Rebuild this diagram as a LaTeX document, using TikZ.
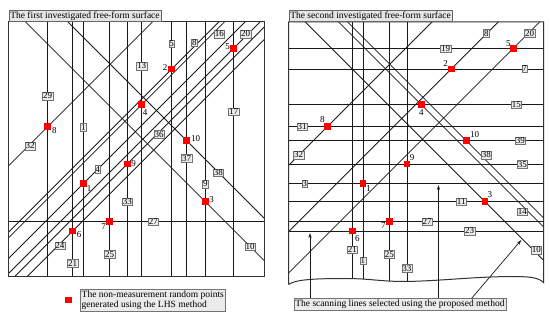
\documentclass[tikz,border=0pt]{standalone}
\usepackage{fontspec}
\setmainfont{Liberation Serif}
\usetikzlibrary{calc,arrows.meta}
\begin{document}
\begin{tikzpicture}[x=1pt,y=-1pt,
  ln/.style={line width=0.8pt, black!90},
  frm/.style={line width=1pt, black!80},
  lab/.style={draw=black!55, fill=black!8, inner sep=0.7pt, font=\fontsize{9}{9.5}\selectfont, line width=0.4pt},
  ptl/.style={font=\fontsize{9}{9.5}\selectfont, inner sep=0pt},
  pt/.style={fill=red, minimum size=6.5pt, inner sep=0pt, draw=none},
  ttl/.style={draw=black!60, fill=black!10, inner sep=1.6pt, font=\fontsize{9.5}{10}\selectfont, line width=0.5pt},
  arr/.style={line width=0.7pt, black!90, -{Stealth[length=5pt,width=3.2pt]}}]
\useasboundingbox (0,0) rectangle (550,318);
% ---------- points ----------
\foreach \n/\x/\y in {1/83.3/183.7, 2/171.7/69, 3/205.3/201.7, 4/141.7/104.7, 5/233.7/48.3,
  6/72.7/231, 7/109.7/221.7, 8/47.7/126.7, 9/127.3/164, 10/186.7/140.7}{
  \coordinate (P\n) at (\x,\y);
  \coordinate (Q\n) at (\x+279.6,\y);
}
% ---------- left panel ----------
\begin{scope}
\clip (8.5,22) rectangle (264,277);
\foreach \n in {1,...,10} \draw[ln] ($(P\n)+(0,-300)$) -- ($(P\n)+(0,300)$);
\draw[ln] ($(P7)+(-300,0)$) -- ($(P7)+(300,0)$);
\foreach \n in {1,2,4,5,6,8,9} \draw[ln] ($(P\n)+(-300,300)$) -- ($(P\n)+(300,-300)$);
\foreach \n in {3,10} \draw[ln] ($(P\n)+(-300,-300)$) -- ($(P\n)+(300,300)$);
\end{scope}
\draw[frm] (8.5,22) rectangle (264,277);
\node[ttl, anchor=south west] (t1) at (8.5,22) {The first investigated free-form surface};
% line labels left
\foreach \t/\x/\y in {29/47.7/96, 1/83.3/127.3, 13/141.7/66, 5/171.7/44, 17/233.7/111.7,
  37/186.7/158.3, 9/205.3/184, 33/127.3/201.7, 25/109.7/254.3, 21/72.7/263.3,
  27/153.3/221.7, 32/30/146, 4/97.7/169.3, 8/194.3/42.5, 16/219.3/34, 20/245.7/34,
  36/159/134.3, 24/60/245.7, 38/218.3/172.7, 10/250/246.7}
  \node[lab] (la\t) at (\x,\y) {\t};
% ---------- right panel ----------
\begin{scope}
\clip (288.5,22) -- (543.5,22) -- (543.5,282.5)
  .. controls (538,277) and (528,276.5) .. (510,276.5)
  .. controls (470,277) and (440,281) .. (405,281.5)
  .. controls (380,281.5) and (370,278.5) .. (345,278.5)
  .. controls (310,278.5) and (295,280) .. (288.5,284.5) -- cycle;
\foreach \n in {1,6,7,9} \draw[ln] ($(Q\n)+(0,-300)$) -- ($(Q\n)+(0,300)$);
\foreach \n in {1,...,10} \draw[ln] ($(Q\n)+(-300,0)$) -- ($(Q\n)+(300,0)$);
\foreach \n in {2,5,8} \draw[ln] ($(Q\n)+(-300,300)$) -- ($(Q\n)+(300,-300)$);
\foreach \n in {3,4,10} \draw[ln] ($(Q\n)+(-300,-300)$) -- ($(Q\n)+(300,300)$);
\end{scope}
\draw[frm] (288.5,284.5) -- (288.5,22) -- (543.5,22) -- (543.5,282.5)
  .. controls (538,277) and (528,276.5) .. (510,276.5)
  .. controls (470,277) and (440,281) .. (405,281.5)
  .. controls (380,281.5) and (370,278.5) .. (345,278.5)
  .. controls (310,278.5) and (295,280) .. (288.5,284.5);
\node[ttl, anchor=south west] (t2) at (288.5,22) {The second investigated free-form surface};
\foreach \t/\x/\y in {8/486.3/33.3, 20/529.7/33.3, 19/445.7/48.5, 7/524.7/69, 15/516.3/104.5,
  31/302/126.7, 39/520.3/140.7, 35/522.3/164.2, 3/304.7/183.7, 11/461.3/201.7,
  27/427/221.7, 23/469.7/231, 32/298.7/155, 38/486.3/155, 14/522.3/211.7, 10/536.3/250,
  21/352.3/250, 1/362.9/260.7, 25/389.3/254.3, 33/406.9/268.3}
  \node[lab] (lb\t) at (\x,\y) {\t};
% ---------- points and their numbers ----------
\foreach \n/\dx/\dy in {1/5.7/4.7, 2/-6.7/-1.5, 3/6.3/-2.3, 4/3.3/8, 5/-6/-1.7,
  6/6.3/3.3, 7/-6/5, 8/6.7/4.3, 9/6.3/0, 10/9/-2.3}{
  \node[pt] (pp\n) at (P\n) {};
  \node[ptl] (pn\n) at ($(P\n)+(\dx,\dy)$) {\n};
}
\foreach \n/\dx/\dy in {1/5.7/4.7, 2/-5.7/-5.7, 3/5/-6.7, 4/0/8.3, 5/-5/-5,
  6/5/7.3, 7/-6/4.3, 8/-5/-6.7, 9/5.3/-6.7, 10/8.3/-6.3}{
  \node[pt] (qp\n) at (Q\n) {};
  \node[ptl] (qn\n) at ($(Q\n)+(\dx,\dy)$) {\n};
}
% ---------- legends ----------
\node[pt] (legpt) at (68.3,300) {};
\node[lab, align=left, inner sep=1.5pt, font=\fontsize{9.5}{10.5}\selectfont] (leg1) at (152.8,300.3)
  {The non-measurement random points\\generated using the LHS method};
\node[lab, inner sep=1.5pt, font=\fontsize{9.5}{10.5}\selectfont] (leg2) at (400,304.3)
  {The scanning lines selected using the proposed method};
\coordinate (a1) at (310,233);
\coordinate (a2) at (438.5,185);
\coordinate (a3) at (521.3,240);
\draw[arr] (leg2.north -| a1) -- (a1);
\draw[arr] (leg2.north -| a2) -- (a2);
\draw[arr] (471.7,0 |- leg2.north) -- (a3);
\end{tikzpicture}
\end{document}
